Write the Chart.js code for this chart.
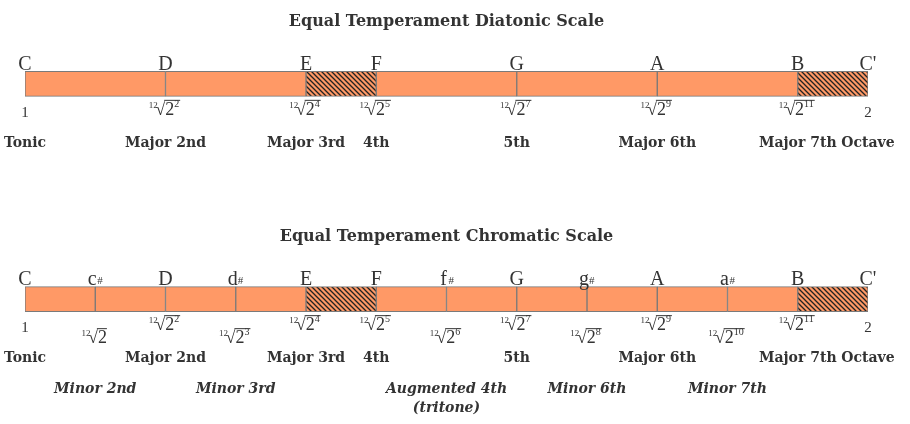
<!DOCTYPE html>
<html><head><meta charset="utf-8">
<script src="https://cdn.jsdelivr.net/npm/chart.js@4"></script>
<style>body{margin:0;background:#fff}#wrap{width:910px;height:424px}</style>
</head><body><div id="wrap"><canvas id="c"></canvas></div>
<script>
// rows and semitone positions
const rows = ['Diatonic', '', 'Chromatic'];
const titles = ['Equal Temperament Diatonic Scale', 'Equal Temperament Chromatic Scale'];
const diatonicSteps = [0, 2, 4, 5, 7, 9, 11, 12];
const chromaticSteps = [0, 1, 2, 3, 4, 5, 6, 7, 8, 9, 10, 11, 12];
const noteNames = ['C', 'c#', 'D', 'd#', 'E', 'F', 'f#', 'G', 'g#', 'A', 'a#', 'B', "C'"];
const intervalNames = ['Tonic', 'Minor 2nd', 'Major 2nd', 'Minor 3rd', 'Major 3rd', '4th',
  'Augmented 4th|(tritone)', '5th', 'Minor 6th', 'Major 6th', 'Minor 7th', 'Major 7th', 'Octave'];
const halfSteps = [4, 11]; // semitone segments drawn hatched

const ORANGE = '#ff9966';
function hatch() {
  const p = document.createElement('canvas');
  p.width = 5; p.height = 5;
  const g = p.getContext('2d');
  g.fillStyle = ORANGE; g.fillRect(0, 0, 5, 5);
  g.strokeStyle = '#222'; g.lineWidth = 1.3;
  g.beginPath(); g.moveTo(-1, -1); g.lineTo(6, 6); g.moveTo(-1, 4); g.lineTo(1, 6); g.moveTo(4, -1); g.lineTo(6, 1); g.stroke();
  return document.getElementById('c').getContext('2d').createPattern(p, 'repeat');
}
const pat = hatch();

// one dataset per semitone start; diatonic row only where a diatonic step begins
const datasets = [];
for (let i = 0; i < 12; i++) {
  const di = diatonicSteps.indexOf(i);
  const dVal = di >= 0 && di < diatonicSteps.length - 1 ? [i, diatonicSteps[di + 1]] : null;
  datasets.push({
    data: [dVal, null, [i, i + 1]],
    backgroundColor: halfSteps.includes(i) ? pat : ORANGE,
    borderColor: '#7a7a7a', borderWidth: 1, borderSkipped: false,
    barThickness: 25, grouped: false
  });
}

const serif = '"Liberation Serif", serif';
const slab = '"DejaVu Serif", serif';

function drawRoot(ctx, x, y, e) {
  ctx.textBaseline = 'alphabetic';
  ctx.textAlign = 'left';
  const idxF = '9px ' + serif, radF = '17px ' + serif, baseF = '18px ' + serif, expF = '10px ' + serif;
  ctx.font = idxF; const wi = ctx.measureText('12').width;
  ctx.font = radF; const wr = ctx.measureText('√').width;
  ctx.font = baseF; const wb = ctx.measureText('2').width;
  const es = e > 1 ? String(e) : '';
  ctx.font = expF; const we = es ? ctx.measureText(es).width + 1 : 0;
  let cx = x - (wi + wr + wb + we) / 2;
  ctx.font = idxF; ctx.fillText('12', cx, y - 7); cx += wi - 2;
  ctx.font = radF; ctx.fillText('√', cx, y); cx += wr;
  const ox = cx - 1;
  ctx.font = baseF; ctx.fillText('2', cx, y); cx += wb;
  if (es) { ctx.font = expF; ctx.fillText(es, cx, y - 8); cx += we; }
  ctx.strokeStyle = '#333'; ctx.lineWidth = 1;
  ctx.beginPath(); ctx.moveTo(ox, y - 14.5); ctx.lineTo(cx, y - 14.5); ctx.stroke();
}

const labelsPlugin = {
  id: 'labels',
  afterDraw(chart) {
    const ctx = chart.ctx, xs = chart.scales.x, ys = chart.scales.y;
    ctx.save();
    ctx.fillStyle = '#333';
    [[0, diatonicSteps], [2, chromaticSteps]].forEach(([row, steps], r) => {
      const cy = ys.getPixelForValue(row);
      ctx.textAlign = 'center'; ctx.textBaseline = 'alphabetic';
      ctx.font = 'bold 16px ' + slab;
      ctx.fillText(titles[r], (xs.left + xs.right) / 2, cy - 58);
      steps.forEach(s => {
        const x = xs.getPixelForValue(s);
        const name = noteNames[s];
        ctx.textAlign = 'center';
        if (name.endsWith('#')) {
          ctx.font = '20px ' + serif; ctx.fillText(name[0], x - 3, cy - 14);
          ctx.font = '11px ' + serif; ctx.textAlign = 'left'; ctx.fillText('#', x + 2, cy - 15);
        } else {
          ctx.font = '20px ' + serif; ctx.fillText(name, x, cy - 14);
        }
        const minor = !diatonicSteps.includes(s);
        if (s === 0 || s === 12) {
          ctx.textAlign = 'center'; ctx.font = '15px ' + serif;
          ctx.fillText(s === 0 ? '1' : '2', x, cy + 33);
        } else {
          drawRoot(ctx, x, cy + (minor ? 44 : 31), s);
        }
        ctx.textAlign = 'center';
        const parts = intervalNames[s].split('|');
        if (minor) {
          ctx.font = 'italic bold 14px ' + slab;
          parts.forEach((p, k) => ctx.fillText(p, x, cy + 94 + k * 19));
        } else {
          ctx.font = 'bold 14px ' + slab;
          ctx.fillText(parts[0], x, cy + 63);
        }
      });
    });
    ctx.restore();
  }
};

new Chart(document.getElementById('c'), {
  type: 'bar',
  data: { labels: rows, datasets },
  options: {
    indexAxis: 'y',
    responsive: true, maintainAspectRatio: false, animation: false,
    layout: { padding: { left: 25, right: 42, top: 30, bottom: 71 } },
    plugins: { legend: { display: false }, tooltip: { enabled: false } },
    scales: {
      x: { type: 'linear', min: 0, max: 12, display: false },
      y: { display: false }
    }
  },
  plugins: [labelsPlugin]
});
</script></body></html>
